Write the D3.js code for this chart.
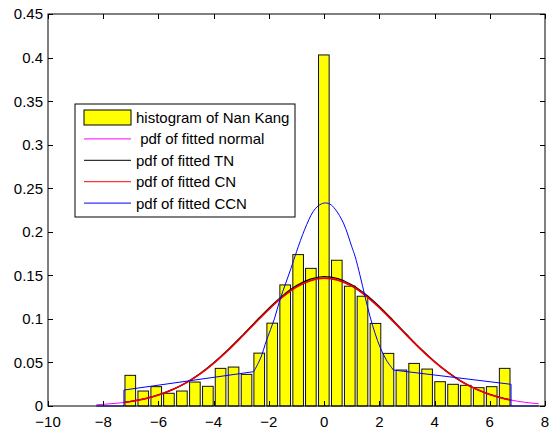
<!DOCTYPE html>
<html>
<head>
<meta charset="utf-8">
<script src="https://cdn.jsdelivr.net/npm/d3@7"></script>
<style>
  body { margin: 0; background: #fff; }
  text { font-family: Arial, "Liberation Sans", sans-serif; font-size: 15px; fill: #000; }
</style>
</head>
<body>
<svg id="svg1"></svg>
<script>
// histogram bins (centres) and densities
var binCenters = [-7.02, -6.55, -6.08, -5.62, -5.15, -4.68, -4.21, -3.75, -3.28, -2.81,
                  -2.35, -1.88, -1.41, -0.94, -0.48, -0.01, 0.46, 0.93, 1.39, 1.86,
                  2.33, 2.80, 3.26, 3.73, 4.20, 4.67, 5.13, 5.60, 6.07, 6.54];
var binHeights = [0.0352, 0.0172, 0.0222, 0.0146, 0.0172, 0.0275, 0.0226, 0.0432, 0.0447, 0.0363,
                  0.0607, 0.0951, 0.139, 0.1738, 0.158, 0.403, 0.1673, 0.1375, 0.126, 0.0948,
                  0.0604, 0.0413, 0.0489, 0.0424, 0.0279, 0.0249, 0.0237, 0.021, 0.0222, 0.0432];
var binWidth = 0.385;

// pdf of fitted normal
var normalX = [-8.25, -8, -7.5, -7, -6.5, -6, -5.5, -5, -4.5, -4, -3.5, -3, -2.5, -2, -1.5, -1, -0.5,
               0, 0.5, 1, 1.5, 2, 2.5, 3, 3.5, 4, 4.5, 5, 5.5, 6, 6.5, 7, 7.5, 7.77];
var normalY = [0.0014, 0.0019, 0.0032, 0.0052, 0.0082, 0.0126, 0.0186, 0.0265, 0.0366, 0.0490, 0.0632, 0.0789, 0.0952, 0.1110, 0.1252, 0.1366, 0.1439,
               0.1467, 0.1445, 0.1377, 0.1268, 0.1129, 0.0971, 0.0808, 0.0650, 0.0506, 0.0380, 0.0276, 0.0194, 0.0132, 0.0087, 0.0055, 0.0034, 0.0026];

// pdf of fitted TN and CN (on the data range)
var cnX = [-7.25, -7, -6.5, -6, -5.5, -5, -4.5, -4, -3.5, -3, -2.5, -2, -1.5, -1, -0.5,
           0, 0.5, 1, 1.5, 2, 2.5, 3, 3.5, 4, 4.5, 5, 5.5, 6, 6.5, 6.77];
var cnY = [0.0041, 0.0052, 0.0082, 0.0126, 0.0186, 0.0265, 0.0366, 0.0490, 0.0632, 0.0789, 0.0952, 0.1110, 0.1252, 0.1366, 0.1439,
           0.1467, 0.1445, 0.1377, 0.1268, 0.1129, 0.0971, 0.0808, 0.0650, 0.0506, 0.0380, 0.0276, 0.0194, 0.0132, 0.0087, 0.0068];
var tnY = [0.0042, 0.0053, 0.0083, 0.0128, 0.0188, 0.0268, 0.0370, 0.0496, 0.0640, 0.0798, 0.0963, 0.1124, 0.1267, 0.1382, 0.1456,
           0.1485, 0.1462, 0.1393, 0.1283, 0.1143, 0.0983, 0.0818, 0.0658, 0.0512, 0.0385, 0.0279, 0.0196, 0.0134, 0.0088, 0.0069];

// pdf of fitted CCN
var ccnX = [-8.25, -7.25, -7.25, -2.55, -2.3, -2.08, -1.8, -1.6, -1.4, -1.2, -1.0, -0.7, -0.4, -0.2,
            0, 0.2, 0.4, 0.7, 1.0, 1.12, 1.3, 1.48, 1.66, 1.85, 2.02, 2.25, 2.51, 6.77, 6.77, 7.77];
var ccnY = [0, 0, 0.0183, 0.0394, 0.055, 0.076, 0.100, 0.122, 0.140, 0.158, 0.177, 0.203, 0.223, 0.230,
            0.233, 0.232, 0.226, 0.210, 0.183, 0.172, 0.150, 0.126, 0.103, 0.083, 0.068, 0.053, 0.0413, 0.0249, 0, 0];

var xTicks = [-10, -8, -6, -4, -2, 0, 2, 4, 6, 8];
var yTicks = [0, 0.05, 0.1, 0.15, 0.2, 0.25, 0.3, 0.35, 0.4, 0.45];

var legendLabels = ["histogram of Nan Kang", " pdf of fitted normal", "pdf of fitted TN", "pdf of fitted CN", "pdf of fitted CCN"];
var legendColors = ["#ffff00", "#ff00ff", "#000000", "#ff0000", "#0000ff"];

var margin = {top: 14, right: 5, bottom: 28, left: 48};
var width = 550 - margin.left - margin.right,
    height = 434 - margin.top - margin.bottom;

var svg = d3.select('#svg1')
  .attr('width', 550)
  .attr('height', 434)
  .append('g')
    .attr('transform', 'translate(' + margin.left + ',' + margin.top + ')');

var x = d3.scaleLinear().domain([-10, 8]).range([0, width]);
var y = d3.scaleLinear().domain([0, 0.45]).range([height, 0]);

// bars
svg.selectAll('.bar')
  .data(binCenters)
  .enter()
  .append('rect')
    .attr('class', 'bar')
    .attr('x', function(d) { return x(d - binWidth / 2); })
    .attr('y', function(d, i) { return y(binHeights[i]); })
    .attr('width', x(binWidth) - x(0))
    .attr('height', function(d, i) { return height - y(binHeights[i]); })
    .attr('fill', '#ffff00')
    .attr('stroke', '#111')
    .attr('stroke-width', 1);

function curve(xs, ys, color, w, c) {
  var pts = xs.map(function(v, i) { return [v, ys[i]]; });
  svg.append('path')
    .datum(pts)
    .attr('fill', 'none')
    .attr('stroke', color)
    .attr('stroke-width', w)
    .attr('d', d3.line()
      .x(function(d) { return x(d[0]); })
      .y(function(d) { return y(d[1]); })
      .curve(c || d3.curveMonotoneX));
}

curve(normalX, normalY, '#ff00ff', 1);
curve(cnX, tnY, '#000000', 1.2);
curve(cnX, cnY, '#ee0000', 1.6);
// CCN: flat tails are straight, the middle part is smooth
curve(ccnX.slice(0, 4), ccnY.slice(0, 4), '#0000ff', 1, d3.curveLinear);
curve(ccnX.slice(3, 27), ccnY.slice(3, 27), '#0000ff', 1, d3.curveCatmullRom);
curve(ccnX.slice(26), ccnY.slice(26), '#0000ff', 1, d3.curveLinear);

// axes box with inward ticks
svg.append('rect')
  .attr('x', 0).attr('y', 0)
  .attr('width', width).attr('height', height)
  .attr('fill', 'none').attr('stroke', '#000').attr('stroke-width', 1);

var tl = 5;
svg.selectAll('.xt')
  .data(xTicks)
  .enter()
  .append('path')
    .attr('stroke', '#000')
    .attr('d', function(d) {
      var px = Math.round(x(d)) + 0.5;
      return 'M' + px + ',' + height + 'v' + (-tl) + 'M' + px + ',0v' + tl;
    });
svg.selectAll('.yt')
  .data(yTicks)
  .enter()
  .append('path')
    .attr('stroke', '#000')
    .attr('d', function(d) {
      var py = Math.round(y(d)) + 0.5;
      return 'M0,' + py + 'h' + tl + 'M' + width + ',' + py + 'h' + (-tl);
    });

svg.selectAll('.xl')
  .data(xTicks)
  .enter()
  .append('text')
    .attr('x', function(d) { return x(d); })
    .attr('y', height + 21)
    .attr('text-anchor', 'middle')
    .text(function(d) { return d3.format('')(d); });

svg.selectAll('.yl')
  .data(yTicks)
  .enter()
  .append('text')
    .attr('x', -5)
    .attr('y', function(d) { return y(d); })
    .attr('dy', '0.36em')
    .attr('text-anchor', 'end')
    .text(function(d) { return d3.format('')(+d.toFixed(2)); });

// legend
var lg = svg.append('g').attr('transform', 'translate(' + (75 - margin.left) + ',' + (104 - margin.top) + ')');
lg.append('rect')
  .attr('width', 220).attr('height', 113)
  .attr('fill', '#fff').attr('stroke', '#000').attr('stroke-width', 1);

legendLabels.forEach(function(lab, i) {
  var cy = 13.5 + i * 21.4;
  if (i == 0) {
    lg.append('rect')
      .attr('x', 9).attr('y', cy - 7.5)
      .attr('width', 47).attr('height', 15)
      .attr('fill', legendColors[i]).attr('stroke', '#000');
  } else {
    lg.append('line')
      .attr('x1', 9).attr('x2', 56)
      .attr('y1', cy).attr('y2', cy)
      .attr('stroke', legendColors[i]).attr('stroke-width', 1);
  }
  lg.append('text')
    .attr('x', 61)
    .attr('y', cy)
    .attr('dy', '0.36em')
    .style('white-space', 'pre')
    .text(lab);
});
</script>
</body>
</html>
